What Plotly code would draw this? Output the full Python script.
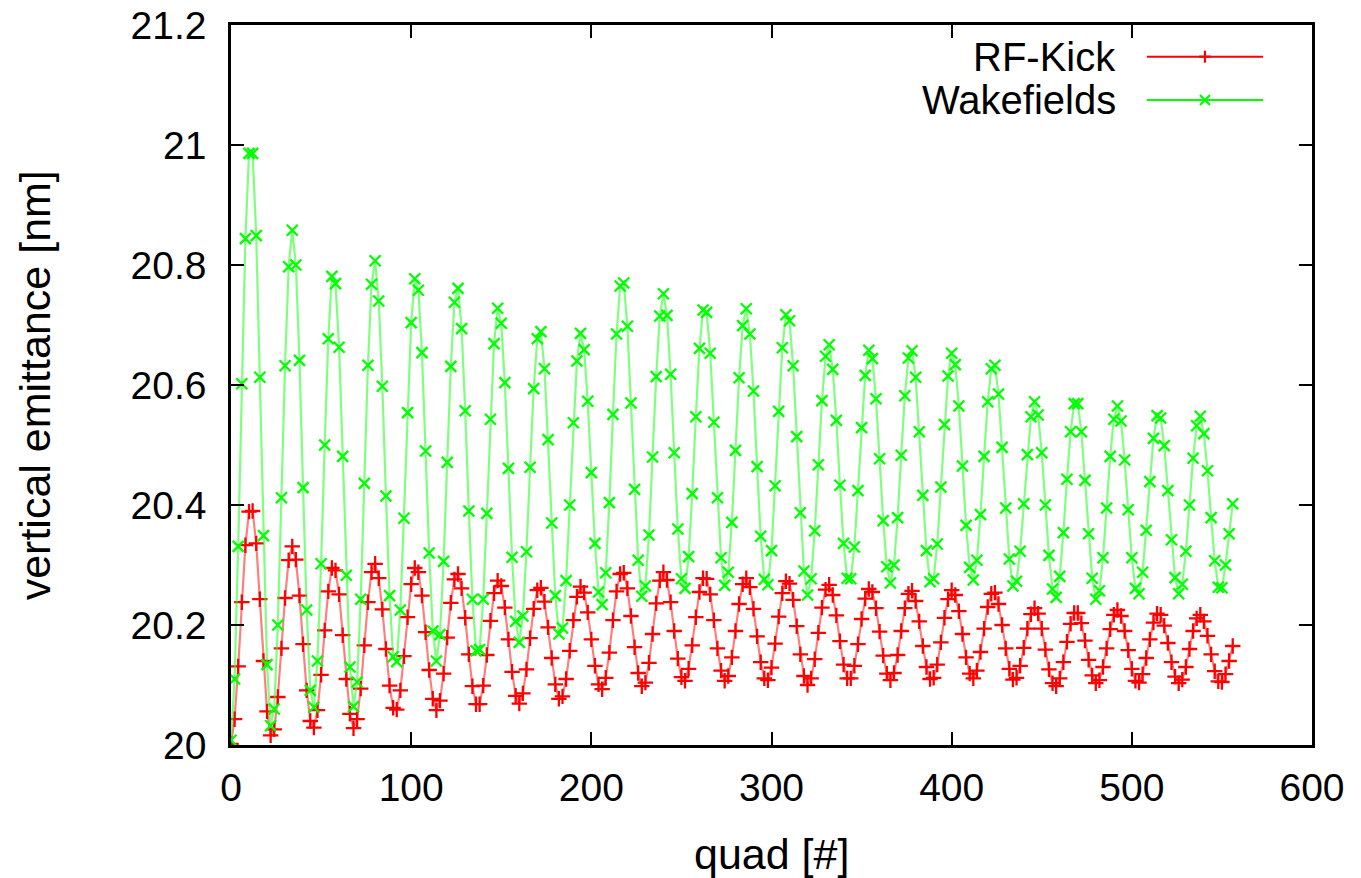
import plotly.graph_objects as go

# quad number of each sample
quad = list(range(0, 557, 2))

# vertical emittance [nm] with RF kick
rf_kick = [
    20.002, 20.043, 20.131, 20.238, 20.333, 20.389, 20.390, 20.336, 20.243, 20.140, 20.056, 20.016,
    20.026, 20.080, 20.161, 20.245, 20.308, 20.331, 20.309, 20.249, 20.168, 20.091, 20.040,
    20.029, 20.058, 20.117, 20.191, 20.256, 20.295, 20.291, 20.251, 20.183, 20.110, 20.052, 20.028,
    20.043, 20.094, 20.166, 20.238, 20.288, 20.302, 20.278, 20.226, 20.160, 20.099, 20.062,
    20.059, 20.091, 20.148, 20.213, 20.268, 20.295, 20.288, 20.249, 20.188, 20.125, 20.077, 20.058,
    20.074, 20.119, 20.179, 20.237, 20.276, 20.285, 20.261, 20.212, 20.151, 20.098, 20.068,
    20.068, 20.099, 20.150, 20.207, 20.253, 20.274, 20.265, 20.229, 20.176, 20.122, 20.082,
    20.069, 20.086, 20.126, 20.178, 20.227, 20.258, 20.262, 20.239, 20.196, 20.145, 20.101, 20.077,
    20.081, 20.110, 20.157, 20.208, 20.247, 20.264, 20.254, 20.221, 20.176, 20.132, 20.101,
    20.093, 20.112, 20.154, 20.208, 20.256, 20.285, 20.287, 20.261, 20.215, 20.163, 20.120, 20.098,
    20.104, 20.137, 20.185, 20.236, 20.274, 20.288, 20.275, 20.238, 20.190, 20.144, 20.113,
    20.107, 20.127, 20.166, 20.213, 20.255, 20.278, 20.277, 20.251, 20.208, 20.161, 20.124, 20.107,
    20.115, 20.146, 20.190, 20.235, 20.268, 20.278, 20.263, 20.227, 20.181, 20.138, 20.111,
    20.108, 20.129, 20.169, 20.214, 20.253, 20.273, 20.269, 20.242, 20.198, 20.151, 20.115, 20.100,
    20.111, 20.143, 20.187, 20.229, 20.259, 20.267, 20.250, 20.216, 20.173, 20.134, 20.111,
    20.111, 20.132, 20.168, 20.210, 20.244, 20.260, 20.255, 20.228, 20.189, 20.149, 20.119, 20.108,
    20.120, 20.150, 20.190, 20.228, 20.252, 20.257, 20.240, 20.206, 20.165, 20.130, 20.110,
    20.112, 20.134, 20.171, 20.212, 20.243, 20.258, 20.250, 20.223, 20.185, 20.146, 20.119,
    20.111, 20.124, 20.155, 20.194, 20.230, 20.252, 20.254, 20.235, 20.200, 20.161, 20.127, 20.109,
    20.112, 20.132, 20.162, 20.194, 20.218, 20.228, 20.219, 20.194, 20.159, 20.126, 20.103,
    20.098, 20.111, 20.138, 20.172, 20.202, 20.220, 20.220, 20.203, 20.174, 20.142, 20.116, 20.103,
    20.108, 20.130, 20.161, 20.193, 20.217, 20.225, 20.215, 20.190, 20.158, 20.127, 20.107,
    20.104, 20.118, 20.145, 20.176, 20.204, 20.219, 20.217, 20.199, 20.170, 20.138, 20.114, 20.103,
    20.109, 20.130, 20.160, 20.190, 20.211, 20.217, 20.206, 20.182, 20.151, 20.123, 20.106,
    20.105, 20.118, 20.140, 20.165,
]

# vertical emittance [nm] with wakefields
wakefields = [
    20.008, 20.110, 20.331, 20.602, 20.844, 20.986, 20.986, 20.849, 20.613, 20.349, 20.134, 20.032,
    20.060, 20.200, 20.412, 20.632, 20.797, 20.858, 20.800, 20.641, 20.429, 20.225, 20.091,
    20.063, 20.140, 20.302, 20.500, 20.677, 20.781, 20.769, 20.663, 20.481, 20.283, 20.130, 20.064,
    20.105, 20.243, 20.436, 20.633, 20.768, 20.807, 20.740, 20.598, 20.415, 20.249, 20.147,
    20.139, 20.225, 20.378, 20.554, 20.704, 20.777, 20.758, 20.654, 20.490, 20.320, 20.190, 20.140,
    20.184, 20.306, 20.471, 20.631, 20.738, 20.761, 20.694, 20.557, 20.390, 20.243, 20.157,
    20.159, 20.243, 20.386, 20.543, 20.669, 20.728, 20.703, 20.604, 20.461, 20.313, 20.206,
    20.171, 20.215, 20.322, 20.463, 20.594, 20.677, 20.689, 20.627, 20.509, 20.370, 20.249, 20.185,
    20.195, 20.274, 20.400, 20.537, 20.640, 20.686, 20.659, 20.573, 20.454, 20.336, 20.255,
    20.234, 20.287, 20.404, 20.551, 20.685, 20.765, 20.770, 20.698, 20.570, 20.426, 20.308, 20.248,
    20.265, 20.350, 20.480, 20.614, 20.715, 20.752, 20.716, 20.618, 20.487, 20.360, 20.277,
    20.261, 20.314, 20.419, 20.547, 20.661, 20.725, 20.721, 20.653, 20.538, 20.412, 20.312, 20.266,
    20.288, 20.371, 20.491, 20.612, 20.699, 20.727, 20.685, 20.590, 20.464, 20.348, 20.276,
    20.267, 20.324, 20.432, 20.556, 20.662, 20.717, 20.707, 20.632, 20.514, 20.387, 20.290, 20.250,
    20.277, 20.357, 20.467, 20.574, 20.648, 20.667, 20.626, 20.541, 20.433, 20.336, 20.278,
    20.277, 20.330, 20.424, 20.529, 20.616, 20.658, 20.644, 20.577, 20.477, 20.374, 20.297, 20.270,
    20.300, 20.379, 20.483, 20.582, 20.645, 20.657, 20.613, 20.522, 20.416, 20.324, 20.272,
    20.277, 20.335, 20.430, 20.534, 20.615, 20.653, 20.634, 20.565, 20.465, 20.366, 20.296,
    20.275, 20.308, 20.384, 20.481, 20.572, 20.627, 20.633, 20.585, 20.496, 20.395, 20.310, 20.265,
    20.273, 20.323, 20.402, 20.484, 20.547, 20.572, 20.550, 20.487, 20.400, 20.316, 20.260,
    20.246, 20.281, 20.354, 20.443, 20.522, 20.569, 20.569, 20.522, 20.441, 20.352, 20.278, 20.243,
    20.257, 20.312, 20.395, 20.481, 20.543, 20.565, 20.540, 20.475, 20.392, 20.312, 20.261,
    20.252, 20.288, 20.358, 20.439, 20.511, 20.549, 20.545, 20.499, 20.424, 20.342, 20.279, 20.252,
    20.268, 20.323, 20.400, 20.478, 20.532, 20.548, 20.519, 20.457, 20.379, 20.307, 20.263,
    20.262, 20.300, 20.352, 20.402,
]

x_ticks = [0, 100, 200, 300, 400, 500, 600]
y_ticks = [20.0, 20.2, 20.4, 20.6, 20.8, 21.0, 21.2]
y_tick_labels = ["20", "20.2", "20.4", "20.6", "20.8", "21", "21.2"]

series_names = ["RF-Kick", "Wakefields"]
series_colors = ["#ff0000", "#00ff00"]
series_line_colors = ["rgba(255,40,40,0.6)", "rgba(40,255,40,0.6)"]
series_symbols = ["cross-thin", "x-thin"]

FONT = "Liberation Sans, Arial, Helvetica, sans-serif"
FS_TICK = 39
FS_TITLE = 43
FS_KEY = 40

fig = go.Figure()
for name, ys, col, lcol, sym in zip(series_names, [rf_kick, wakefields],
                                    series_colors, series_line_colors, series_symbols):
    fig.add_trace(go.Scatter(
        x=quad, y=ys, mode="lines+markers", name=name, showlegend=False,
        line=dict(color=lcol, width=2.2),
        marker=dict(symbol=sym, size=11, color=col, line=dict(color=col, width=2.3)),
    ))

axis_common = dict(
    showline=True, linewidth=2.5, linecolor="black", mirror="ticks",
    ticks="inside", ticklen=13, tickwidth=2, tickcolor="black",
    showgrid=False, zeroline=False, automargin=False, ticklabeloverflow="allow",
    tickfont=dict(family=FONT, size=FS_TICK, color="black"),
)

# the page body adds an 8 px offset, so the figure is sized to fit the window
fig.update_layout(
    template="none",
    width=1353, height=870, autosize=False,
    margin=dict(l=223, r=49, t=17, b=133, pad=0),
    paper_bgcolor="white", plot_bgcolor="white",
    font=dict(family=FONT, size=FS_TICK, color="black"),
    xaxis=dict(range=[0, 600], tickvals=x_ticks, ticklabelstandoff=6, **axis_common),
    yaxis=dict(range=[20.0, 21.2], tickvals=y_ticks, ticktext=y_tick_labels,
               ticklabelstandoff=14, **axis_common),
    showlegend=False,
)

# axis titles
fig.add_annotation(text="quad [#]", xref="paper", yref="paper", x=0.5, y=-0.151,
                   xanchor="center", yanchor="middle", showarrow=False,
                   font=dict(family=FONT, size=FS_TITLE, color="black"))
fig.add_annotation(text="vertical emittance [nm]", xref="paper", yref="paper",
                   x=-0.181, y=0.5, xanchor="center", yanchor="middle", textangle=-90,
                   showarrow=False, font=dict(family=FONT, size=FS_TITLE, color="black"))

# gnuplot-style key: text on the left, sample on the right
key_rows = [0.956, 0.8958]
for name, col, sym, ky in zip(series_names, series_colors, series_symbols, key_rows):
    fig.add_annotation(text=name, xref="paper", yref="paper", x=0.8207, y=ky,
                       xanchor="right", yanchor="middle", showarrow=False,
                       font=dict(family=FONT, size=FS_KEY, color="black"))
    fig.add_shape(type="line", xref="paper", yref="paper", x0=0.8473, x1=0.9547,
                  y0=ky, y1=ky, line=dict(color=col, width=2))
    if sym == "cross-thin":
        segs = [(-6, 0, 6, 0), (0, -6, 0, 6)]
    else:
        segs = [(-5, -5, 5, 5), (-5, 5, 5, -5)]
    for (a, b, c, d) in segs:
        fig.add_shape(type="line", xref="paper", yref="paper",
                      xsizemode="pixel", ysizemode="pixel", xanchor=0.901, yanchor=ky,
                      x0=a, x1=c, y0=b, y1=d, line=dict(color=col, width=2.2))

fig.write_html("out.html")
